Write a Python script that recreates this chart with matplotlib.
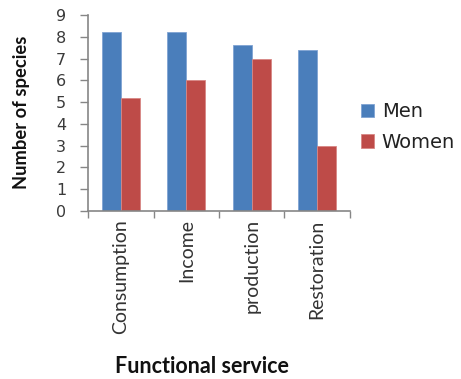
import matplotlib
matplotlib.use("Agg")
import matplotlib.pyplot as plt
import numpy as np

categories = ["Consumption", "Income", "production", "Restoration"]
men = [8.2, 8.2, 7.6, 7.4]
women = [5.2, 6.0, 7.0, 3.0]
series_names = ["Men", "Women"]
y_ticks = list(range(0, 10))

plt.rcParams["font.family"] = ["Lato", "DejaVu Sans"]

fig = plt.figure(figsize=(4.61, 3.79), dpi=100)
ax = fig.add_axes([0.1915, 0.4433, 0.5675, 0.5171])

x = np.arange(len(categories))
w = 0.29
blue = "#4A7EBB"
red = "#BE4B48"
ax.bar(x - w / 2, men, width=w, color=blue, edgecolor="#7FA3D3", linewidth=0.6, label=series_names[0])
ax.bar(x + w / 2, women, width=w, color=red, edgecolor="#D88784", linewidth=0.6, label=series_names[1])

ax.set_xlim(-0.5, len(categories) - 0.5)
ax.set_ylim(0, 9)
ax.set_yticks(y_ticks)
ax.set_yticklabels([str(t) for t in y_ticks], fontsize=11.5, color="#3a3a3a",
                   family="DejaVu Sans")

# category labels centred, ticks at the category boundaries
ax.set_xticks(x)
ax.set_xticklabels(categories, rotation=90, fontsize=14, color="#333333")
ax.set_xticks(np.arange(-0.5, len(categories)), minor=True)
ax.tick_params(axis="x", which="major", length=0, pad=6)
ax.tick_params(axis="x", which="minor", length=5, color="#868686", width=1)
ax.tick_params(axis="y", length=6, color="#868686", width=1, pad=10)

for side in ("top", "right"):
    ax.spines[side].set_visible(False)
for side in ("left", "bottom"):
    ax.spines[side].set_color("#868686")
    ax.spines[side].set_linewidth(1.2)

fig.text(22 / 461, 1 - 112.5 / 379, "Number of species", rotation=90,
         ha="center", va="center", fontsize=13.2, fontweight="bold", color="#111111")
fig.text(0.439, 0.032, "Functional service", ha="center", va="center",
         fontsize=15.5, fontweight="bold", color="#111111")

leg = ax.legend(loc="center left", bbox_to_anchor=(361 / 461, 1 - 127 / 379),
                bbox_transform=fig.transFigure, frameon=False,
                prop={"family": "DejaVu Sans", "size": 14},
                handlelength=0.67, handleheight=0.67, handletextpad=0.4,
                labelspacing=0.6, borderaxespad=0, borderpad=0)
for t in leg.get_texts():
    t.set_color("#222222")

fig.savefig("out.png", dpi=100)
